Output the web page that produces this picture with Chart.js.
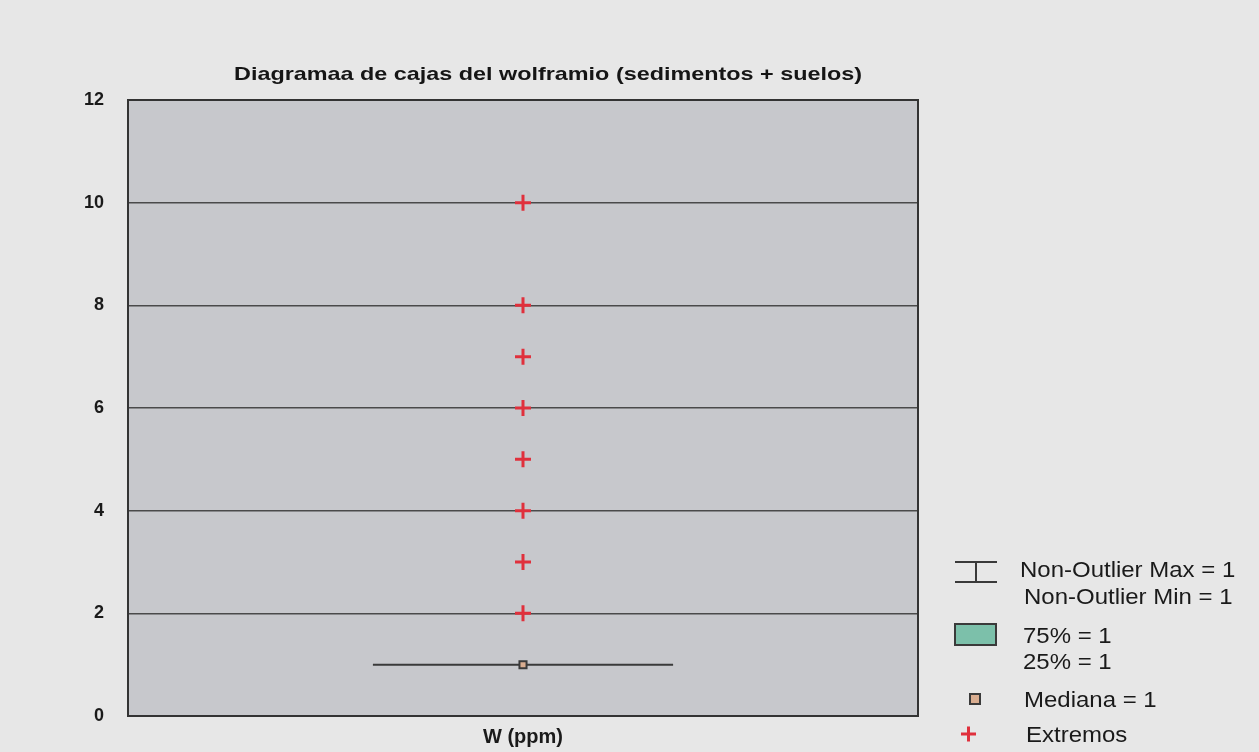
<!DOCTYPE html>
<html lang="es">
<head>
  <meta charset="UTF-8">
  <title>Diagrama de cajas del wolframio</title>
  <script src="https://cdn.jsdelivr.net/npm/chart.js@4/dist/chart.umd.min.js"></script>
  <style>
    html, body { margin: 0; padding: 0; background: #e7e7e7; }
    #wrap { width: 1259px; height: 752px; }
  </style>
</head>
<body>
<div id="wrap"><canvas id="myChart" width="1259" height="752"></canvas></div>
<script>
    // datos
    const categories = ['W (ppm)'];
    const catPos = [0.5];
    const whiskerMax = [1];
    const whiskerMin = [1];
    const q75 = [1];
    const q25 = [1];
    const medians = [1];
    const extremes = [2, 3, 4, 5, 6, 7, 8, 10];
    const yTicks = [0, 2, 4, 6, 8, 10, 12];
    const boxHalfWidth = 0.19;

    const FONT = "'Liberation Sans', Arial, sans-serif";

    // texto ensanchado (el original es un escaneo algo estirado)
    function wideText(ctx, text, x, y, font, sx, align) {
      ctx.save();
      ctx.font = font;
      ctx.textBaseline = 'middle';
      ctx.textAlign = align || 'left';
      ctx.translate(x, y);
      ctx.scale(sx, 1);
      ctx.fillText(text, 0, 0);
      ctx.restore();
    }

    // caja + bigotes dibujados con las escalas de la grafica
    const boxPlugin = {
      id: 'boxPlugin',
      beforeDatasetsDraw: (chart) => {
        const ctx = chart.ctx;
        const xs = chart.scales.x, ys = chart.scales.y;
        catPos.forEach((c, i) => {
          const x0 = xs.getPixelForValue(c - boxHalfWidth);
          const x1 = xs.getPixelForValue(c + boxHalfWidth);
          const xc = xs.getPixelForValue(c);
          const yTop = ys.getPixelForValue(q75[i]);
          const yBot = ys.getPixelForValue(q25[i]);
          ctx.save();
          ctx.strokeStyle = '#3a3a3a';
          ctx.lineWidth = 2;
          ctx.beginPath();
          ctx.moveTo(xc, ys.getPixelForValue(whiskerMax[i]));
          ctx.lineTo(xc, yTop);
          ctx.moveTo(xc, yBot);
          ctx.lineTo(xc, ys.getPixelForValue(whiskerMin[i]));
          ctx.stroke();
          ctx.fillStyle = '#7cc0aa';
          ctx.fillRect(x0, yTop, x1 - x0, yBot - yTop);
          ctx.beginPath();
          ctx.rect(x0, yTop, x1 - x0, yBot - yTop);
          ctx.stroke();
          ctx.restore();
        });
      }
    };

    // fondo gris del area, marco y titulo
    const areaPlugin = {
      id: 'areaPlugin',
      beforeDraw: (chart) => {
        const {ctx, chartArea: a} = chart;
        ctx.save();
        ctx.fillStyle = '#e7e7e7';
        ctx.fillRect(0, 0, chart.width, chart.height);
        ctx.fillStyle = '#c7c8cc';
        ctx.fillRect(a.left, a.top, a.right - a.left, a.bottom - a.top);
        ctx.restore();
      },
      afterDraw: (chart) => {
        const {ctx, chartArea: a} = chart;
        ctx.save();
        ctx.strokeStyle = '#333';
        ctx.lineWidth = 2;
        ctx.strokeRect(a.left, a.top, a.right - a.left, a.bottom - a.top);
        ctx.fillStyle = '#151515';
        wideText(ctx, 'Diagramaa de cajas del wolframio (sedimentos + suelos)', 548, 75,
          'bold 19px ' + FONT, 1.23, 'center');
        ctx.restore();
      }
    };

    // leyenda a la derecha
    const legendPlugin = {
      id: 'legendPlugin',
      afterDraw: (chart) => {
        const ctx = chart.ctx;
        ctx.save();
        ctx.strokeStyle = '#3a3a3a';
        ctx.lineWidth = 2;
        ctx.beginPath();
        ctx.moveTo(955, 562); ctx.lineTo(997, 562);
        ctx.moveTo(976, 562); ctx.lineTo(976, 582);
        ctx.moveTo(955, 582); ctx.lineTo(997, 582);
        ctx.stroke();
        ctx.fillStyle = '#7cc0aa';
        ctx.fillRect(955, 624, 41, 21);
        ctx.strokeRect(955, 624, 41, 21);
        ctx.fillStyle = '#d9ad90';
        ctx.fillRect(970, 694, 10, 10);
        ctx.strokeRect(970, 694, 10, 10);
        ctx.strokeStyle = '#e0303c';
        ctx.lineWidth = 3;
        ctx.beginPath();
        ctx.moveTo(961, 734); ctx.lineTo(976, 734);
        ctx.moveTo(968.5, 726.5); ctx.lineTo(968.5, 741.5);
        ctx.stroke();

        ctx.fillStyle = '#1a1a1a';
        const f = '22px ' + FONT, sx = 1.09;
        wideText(ctx, 'Non-Outlier Max = ' + whiskerMax[0], 1020, 571, f, sx);
        wideText(ctx, 'Non-Outlier Min = ' + whiskerMin[0], 1024, 598, f, sx);
        wideText(ctx, '75% = ' + q75[0], 1023, 637, f, sx);
        wideText(ctx, '25% = ' + q25[0], 1023, 663, f, sx);
        wideText(ctx, 'Mediana = ' + medians[0], 1024, 701, f, sx);
        wideText(ctx, 'Extremos', 1026, 736, f, sx);
        ctx.restore();
      }
    };

    const ctx = document.getElementById('myChart');
    const myChart = new Chart(ctx, {
      type: 'scatter',
      data: {
        datasets: [
          {
            label: 'Mediana',
            data: catPos.map((c, i) => ({x: c, y: medians[i]})),
            pointStyle: 'rect',
            pointRadius: 5,
            backgroundColor: '#d9ad90',
            borderColor: '#3a3a3a',
            borderWidth: 2
          },
          {
            label: 'Extremos',
            data: extremes.map(v => ({x: catPos[0], y: v})),
            pointStyle: 'cross',
            pointRadius: 8,
            borderColor: '#e0303c',
            borderWidth: 3
          }
        ]
      },
      options: {
        responsive: false,
        animation: false,
        layout: { padding: { left: 0, right: 341, top: 100, bottom: 0 } },
        plugins: {
          legend: { display: false },
          tooltip: { enabled: false }
        },
        scales: {
          x: {
            type: 'linear',
            min: 0,
            max: 1,
            grid: { display: false, drawTicks: false },
            border: { display: false },
            ticks: { display: false },
            title: {
              display: true,
              text: categories[0],
              color: '#1a1a1a',
              font: { family: FONT, size: 20, weight: 'bold' },
              padding: { top: 0, bottom: 3 }
            },
            afterFit: (s) => { s.height = 36; }
          },
          y: {
            min: 0,
            max: 12,
            afterBuildTicks: (s) => { s.ticks = yTicks.map(v => ({value: v})); },
            grid: { color: '#4a4a4a', lineWidth: 1.5, drawTicks: false },
            border: { display: false },
            ticks: {
              color: '#1a1a1a',
              padding: 24,
              font: { family: FONT, size: 18, weight: 'bold' }
            },
            afterFit: (s) => { s.width = 128; }
          }
        }
      },
      plugins: [areaPlugin, boxPlugin, legendPlugin]
    });
</script>
</body>
</html>
